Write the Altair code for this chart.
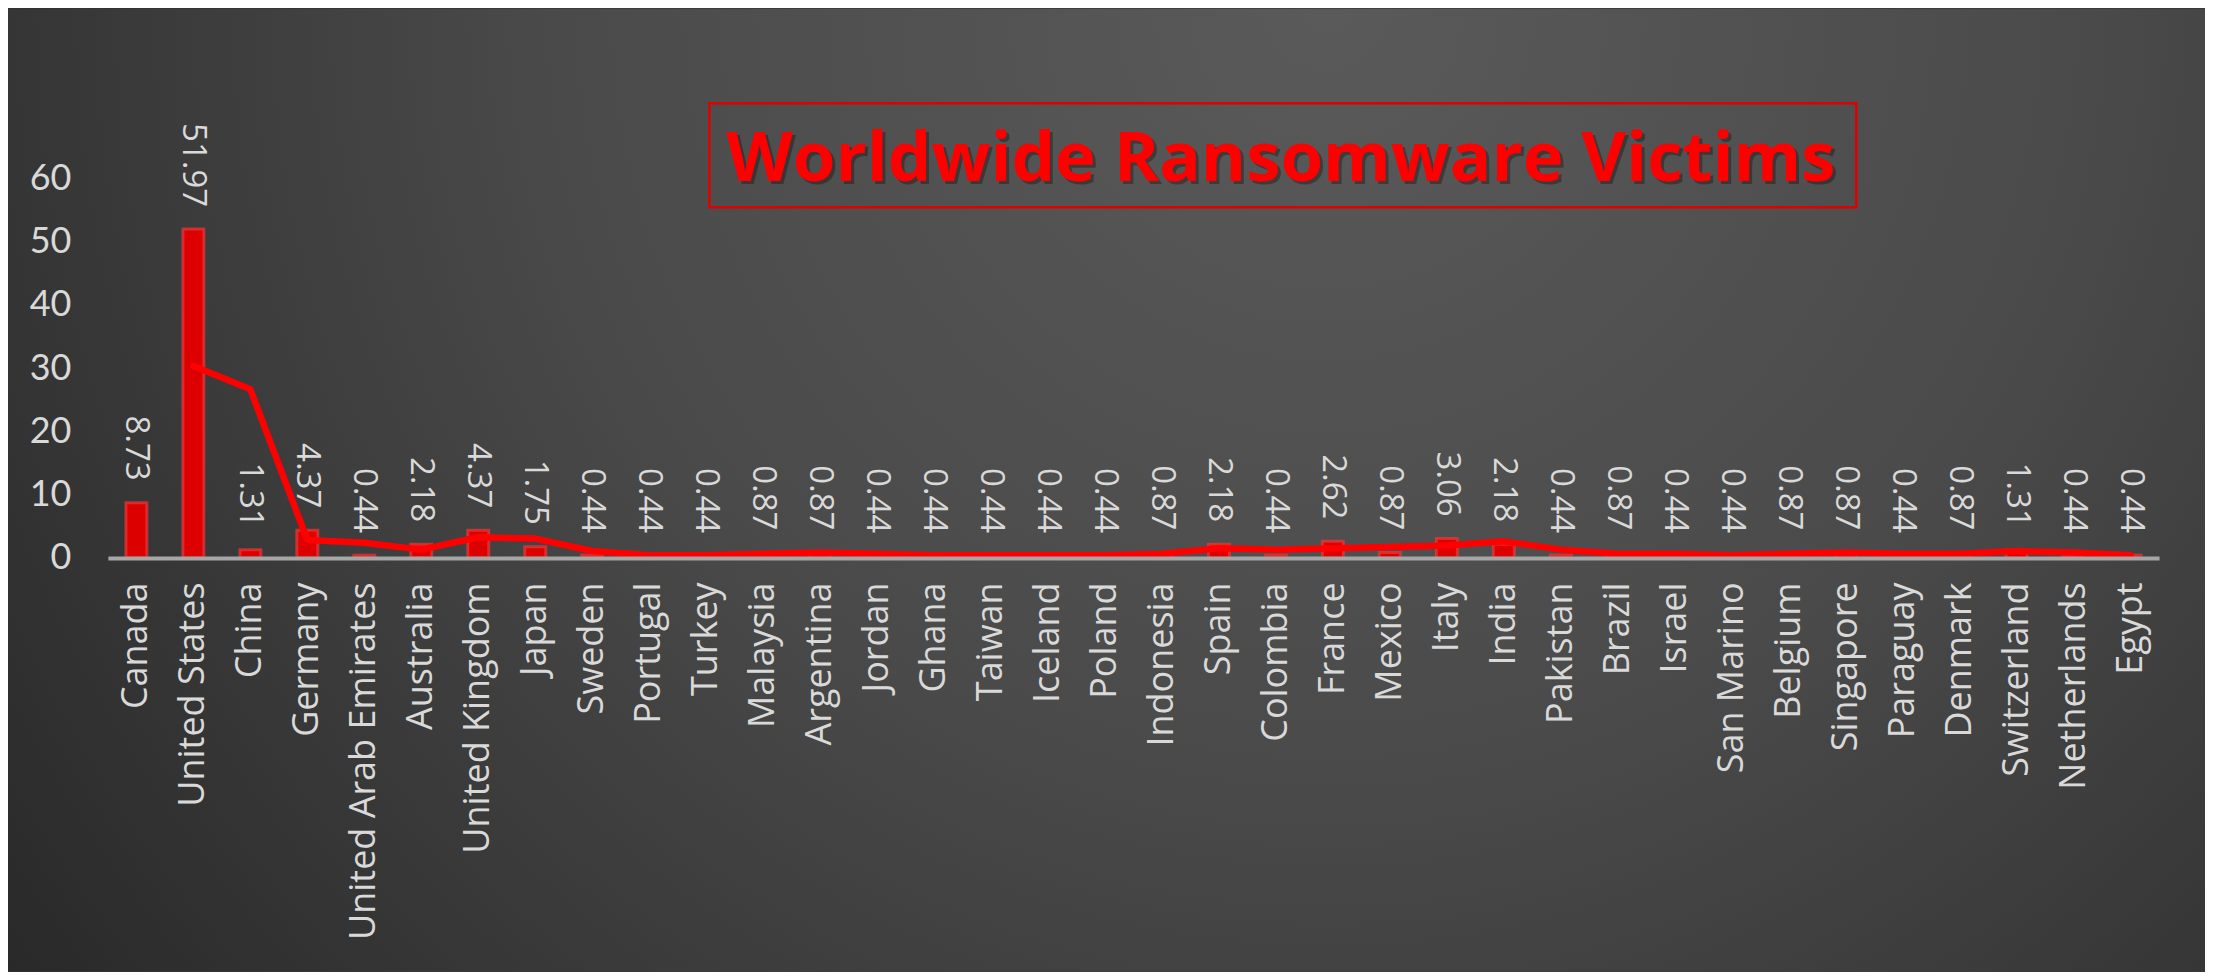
import altair as alt
import pandas as pd

countries = ["Canada", "United States", "China", "Germany", "United Arab Emirates", "Australia",
             "United Kingdom", "Japan", "Sweden", "Portugal", "Turkey", "Malaysia", "Argentina",
             "Jordan", "Ghana", "Taiwan", "Iceland", "Poland", "Indonesia", "Spain", "Colombia",
             "France", "Mexico", "Italy", "India", "Pakistan", "Brazil", "Israel", "San Marino",
             "Belgium", "Singapore", "Paraguay", "Denmark", "Switzerland", "Netherlands", "Egypt"]
values = [8.73, 51.97, 1.31, 4.37, 0.44, 2.18, 4.37, 1.75, 0.44, 0.44, 0.44, 0.87, 0.87,
          0.44, 0.44, 0.44, 0.44, 0.44, 0.87, 2.18, 0.44, 2.62, 0.87, 3.06, 2.18, 0.44, 0.87,
          0.44, 0.44, 0.87, 0.87, 0.44, 0.87, 1.31, 0.44, 0.44]
y_ticks = [0, 10, 20, 30, 40, 50, 60]
title_text = "Worldwide Ransomware Victims"

df = pd.DataFrame({"idx": list(range(len(countries))), "country": countries, "value": values})
df["label"] = df["value"].map(lambda v: f"{v:.2f}")

W, H = 2053, 380
PAD = {"left": 100, "top": 170, "right": 46, "bottom": 414}

x_enc = alt.X("country:N", sort=countries, title=None,
              scale=alt.Scale(paddingInner=0.6, paddingOuter=0.3),
              axis=alt.Axis(labelAngle=-90, labelFont="Open Sans", labelFontSize=36,
                            labelColor="#d9d9d9", labelPadding=24, ticks=False,
                            domainColor="#a6a6a6", domainWidth=4, labelLimit=500, zindex=1))
y_enc = alt.Y("value:Q", title=None,
              scale=alt.Scale(domain=[0, 60], nice=False),
              axis=alt.Axis(values=y_ticks, grid=False, domain=False, ticks=False,
                            labelFont="Lato", labelFontSize=36,
                            labelColor="#d9d9d9", labelPadding=37, zindex=1))

bg = alt.Chart(alt.Data(values=[{"a": 1}])).mark_rect(
    clip=False,
    color=alt.RadialGradient(
        gradient="radial", x1=0.6, y1=0.28, x2=0.6, y2=0.28, r1=0, r2=0.78,
        stops=[alt.GradientStop(offset=0, color="#5a5a5a"),
               alt.GradientStop(offset=0.45, color="#4a4a4a"),
               alt.GradientStop(offset=1, color="#262626")]),
).encode(x=alt.value(-PAD["left"]), x2=alt.value(W + PAD["right"]),
         y=alt.value(-PAD["top"]), y2=alt.value(H + PAD["bottom"]))

base = alt.Chart(df)

bars = base.mark_bar(size=21, color="#dc0000", stroke="#ff3a3a", strokeWidth=3,
                     strokeOpacity=0.6).encode(x=x_enc, y=y_enc)

trend = base.transform_window(
    ma="mean(value)", frame=[-1, 0], sort=[alt.SortField("idx")]
).transform_filter("datum.idx > 0").mark_line(
    color="#ff0000", strokeWidth=6.5, strokeJoin="round", strokeCap="round"
).encode(x=alt.X("country:N", sort=countries), y=alt.Y("ma:Q"))

labels = base.mark_text(angle=90, align="right", baseline="middle", yOffset=-22,
                        font="Open Sans", fontSize=33, color="#d9d9d9").encode(
    x=alt.X("country:N", sort=countries), y=alt.Y("value:Q"), text="label:N")

tdata = alt.Data(values=[{"t": title_text}])
title_box = alt.Chart(tdata).mark_rect(fill="#000000", fillOpacity=0, stroke="#e00000",
                                       strokeWidth=2.5, clip=False).encode(
    x=alt.value(602), x2=alt.value(1750), y=alt.value(-75), y2=alt.value(29))
title_shadow = alt.Chart(tdata).mark_text(font="Open Sans", fontWeight="bold", fontSize=69,
                                          color="#000000", opacity=0.3, align="center",
                                          baseline="alphabetic", clip=False).encode(
    x=alt.value(1177), y=alt.value(6), text="t:N")
title = alt.Chart(tdata).mark_text(font="Open Sans", fontWeight="bold", fontSize=69,
                                   color="#ff0000", align="center", baseline="alphabetic",
                                   clip=False).encode(
    x=alt.value(1174), y=alt.value(3), text="t:N")

chart = alt.layer(bg, bars, trend, labels, title_box, title_shadow, title).properties(
    width=W, height=H,
    autosize=alt.AutoSizeParams(type="none"),
    padding=PAD,
    background="#333333",
).configure_view(stroke=None)

chart.save("out.html", embed_options={"renderer": "svg", "actions": False})
